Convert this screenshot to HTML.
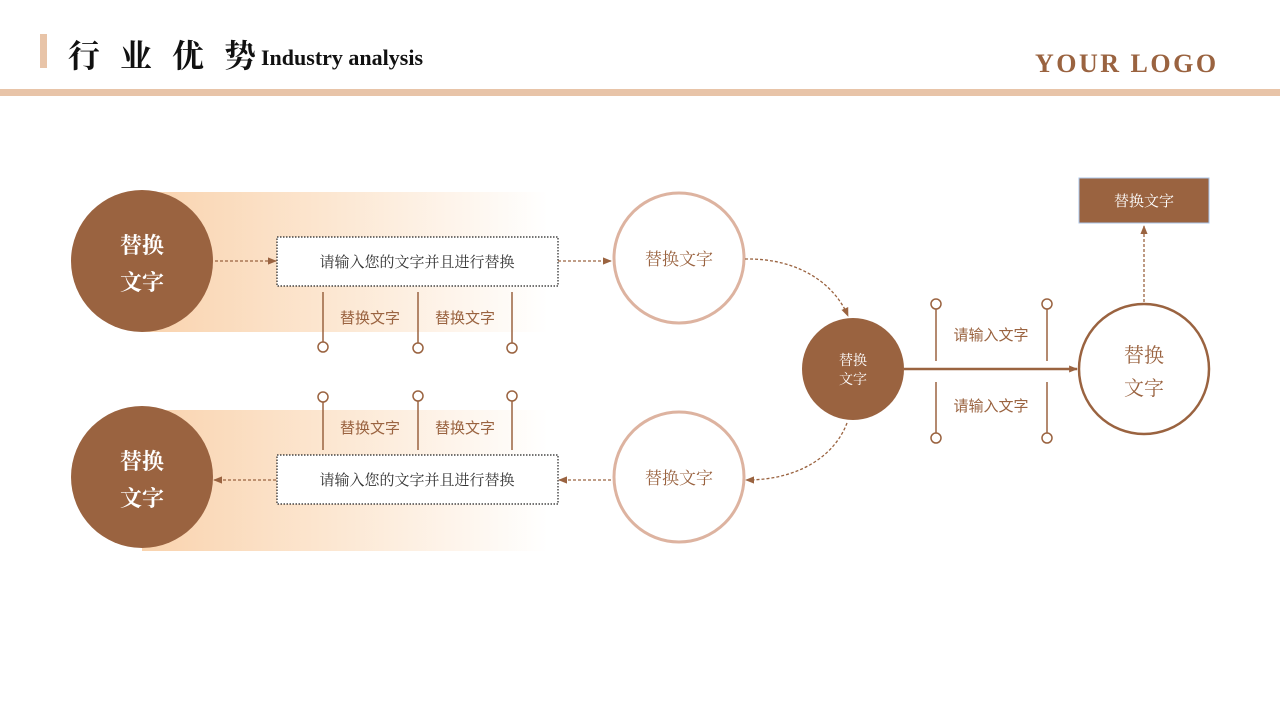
<!DOCTYPE html>
<html><head><meta charset="utf-8"><style>
html,body{margin:0;padding:0;background:#fff;}
svg{display:block;}
</style></head><body>
<svg width="1280" height="720" viewBox="0 0 1280 720" xmlns="http://www.w3.org/2000/svg">
<defs>
<linearGradient id="g" x1="0" x2="1" y1="0" y2="0">
<stop offset="0" stop-color="#F9D3AE"/>
<stop offset="0.45" stop-color="#FCE6D0"/>
<stop offset="1" stop-color="#FCE6D0" stop-opacity="0"/>
</linearGradient>
<marker id="a" viewBox="0 0 10 10" refX="9" refY="5" markerWidth="7" markerHeight="7" orient="auto"><path d="M0,1 L10,5 L0,9 z" fill="#9A6340"/></marker>
<marker id="b" viewBox="0 0 10 10" refX="9" refY="5" markerWidth="3.5" markerHeight="3.5" orient="auto"><path d="M0,1 L10,5 L0,9 z" fill="#9A6340"/></marker>
</defs>
<rect x="40" y="34" width="7" height="34" fill="#E8C4A8"/>
<text x="68" y="67" font-family="'Liberation Serif','Noto Serif CJK SC',serif" font-weight="bold" font-size="32" fill="#111" letter-spacing="20">行业优势</text>
<text x="261" y="65" font-family="'Liberation Serif',serif" font-weight="bold" font-size="22" fill="#111">Industry analysis</text>
<text x="1035" y="72" font-family="'Liberation Serif',serif" font-weight="bold" font-size="26" fill="#9A6340" letter-spacing="2.5">YOUR LOGO</text>
<rect x="0" y="89" width="1280" height="7" fill="#E8C4A8"/>

<g font-family="'Liberation Sans','Noto Sans CJK SC',sans-serif">
<rect x="142" y="192" width="406" height="140" fill="url(#g)"/>
<circle cx="142" cy="261" r="71" fill="#9A6340"/>
<text x="142" y="253" text-anchor="middle" font-family="'Noto Serif CJK SC',serif" font-weight="bold" font-size="22" fill="#fff">替换</text>
<text x="142" y="290" text-anchor="middle" font-family="'Noto Serif CJK SC',serif" font-weight="bold" font-size="22" fill="#fff">文字</text>
<line x1="215" y1="261" x2="276" y2="261" stroke="#9A6340" stroke-width="1.3" stroke-dasharray="3,2" marker-end="url(#a)"/>
<rect x="277" y="237" width="281" height="49" fill="#fff" stroke="#222" stroke-width="1.2" stroke-dasharray="1.5,1.5"/>
<text x="417" y="267" text-anchor="middle" font-family="'Noto Serif CJK SC',serif" font-size="15" fill="#333">请输入您的文字并且进行替换</text>
<line x1="558" y1="261" x2="611" y2="261" stroke="#9A6340" stroke-width="1.3" stroke-dasharray="3,2" marker-end="url(#a)"/>
<g stroke="#9A6340" stroke-width="1.5" fill="#fff">
<line x1="323" y1="292" x2="323" y2="342"/><circle cx="323" cy="347" r="5"/>
<line x1="418" y1="292" x2="418" y2="344"/><circle cx="418" cy="348" r="5"/>
<line x1="512" y1="292" x2="512" y2="344"/><circle cx="512" cy="348" r="5"/>
</g>
<text x="370" y="323" text-anchor="middle" font-size="15" fill="#9A6340">替换文字</text>
<text x="465" y="323" text-anchor="middle" font-size="15" fill="#9A6340">替换文字</text>
<circle cx="679" cy="258" r="65" fill="#fff" stroke="#DDB3A0" stroke-width="3"/>
<text x="679" y="265" text-anchor="middle" font-family="'Noto Serif CJK SC',serif" font-size="17" fill="#9A6340">替换文字</text>

<rect x="142" y="410" width="406" height="141" fill="url(#g)"/>
<circle cx="142" cy="477" r="71" fill="#9A6340"/>
<text x="142" y="469" text-anchor="middle" font-family="'Noto Serif CJK SC',serif" font-weight="bold" font-size="22" fill="#fff">替换</text>
<text x="142" y="506" text-anchor="middle" font-family="'Noto Serif CJK SC',serif" font-weight="bold" font-size="22" fill="#fff">文字</text>
<line x1="276" y1="480" x2="214" y2="480" stroke="#9A6340" stroke-width="1.3" stroke-dasharray="3,2" marker-end="url(#a)"/>
<rect x="277" y="455" width="281" height="49" fill="#fff" stroke="#222" stroke-width="1.2" stroke-dasharray="1.5,1.5"/>
<text x="417" y="485" text-anchor="middle" font-family="'Noto Serif CJK SC',serif" font-size="15" fill="#333">请输入您的文字并且进行替换</text>
<line x1="611" y1="480" x2="559" y2="480" stroke="#9A6340" stroke-width="1.3" stroke-dasharray="3,2" marker-end="url(#a)"/>
<g stroke="#9A6340" stroke-width="1.5" fill="#fff">
<line x1="323" y1="401" x2="323" y2="450"/><circle cx="323" cy="397" r="5"/>
<line x1="418" y1="400" x2="418" y2="450"/><circle cx="418" cy="396" r="5"/>
<line x1="512" y1="400" x2="512" y2="450"/><circle cx="512" cy="396" r="5"/>
</g>
<text x="370" y="433" text-anchor="middle" font-size="15" fill="#9A6340">替换文字</text>
<text x="465" y="433" text-anchor="middle" font-size="15" fill="#9A6340">替换文字</text>
<circle cx="679" cy="477" r="65" fill="#fff" stroke="#DDB3A0" stroke-width="3"/>
<text x="679" y="484" text-anchor="middle" font-family="'Noto Serif CJK SC',serif" font-size="17" fill="#9A6340">替换文字</text>

<path d="M745,259 C800,258 835,285 848,316" fill="none" stroke="#9A6340" stroke-width="1.3" stroke-dasharray="3,2" marker-end="url(#a)"/>
<path d="M847,423 C835,455 800,480 746,480" fill="none" stroke="#9A6340" stroke-width="1.3" stroke-dasharray="3,2" marker-end="url(#a)"/>

<circle cx="853" cy="369" r="51" fill="#9A6340"/>
<text x="853" y="365" text-anchor="middle" font-family="'Noto Serif CJK SC',serif" font-size="14" fill="#fff">替换</text>
<text x="853" y="384" text-anchor="middle" font-family="'Noto Serif CJK SC',serif" font-size="14" fill="#fff">文字</text>
<line x1="904" y1="369" x2="1077" y2="369" stroke="#9A6340" stroke-width="2.5" marker-end="url(#b)"/>
<g stroke="#9A6340" stroke-width="1.5" fill="#fff">
<line x1="936" y1="309" x2="936" y2="361"/><circle cx="936" cy="304" r="5"/>
<line x1="1047" y1="309" x2="1047" y2="361"/><circle cx="1047" cy="304" r="5"/>
<line x1="936" y1="382" x2="936" y2="433"/><circle cx="936" cy="438" r="5"/>
<line x1="1047" y1="382" x2="1047" y2="433"/><circle cx="1047" cy="438" r="5"/>
</g>
<text x="991" y="340" text-anchor="middle" font-size="15" fill="#9A6340">请输入文字</text>
<text x="991" y="411" text-anchor="middle" font-size="15" fill="#9A6340">请输入文字</text>
<circle cx="1144" cy="369" r="65" fill="#fff" stroke="#9A6340" stroke-width="2.5"/>
<text x="1144" y="362" text-anchor="middle" font-family="'Noto Serif CJK SC',serif" font-size="20" fill="#9A6340">替换</text>
<text x="1144" y="395" text-anchor="middle" font-family="'Noto Serif CJK SC',serif" font-size="20" fill="#9A6340">文字</text>
<line x1="1144" y1="302" x2="1144" y2="226" stroke="#9A6340" stroke-width="1.3" stroke-dasharray="3,2" marker-end="url(#a)"/>
<rect x="1079" y="178" width="130" height="45" fill="#9A6340" stroke="#A9C4E8" stroke-width="1"/>
<text x="1144" y="206" text-anchor="middle" font-family="'Noto Serif CJK SC',serif" font-size="15" fill="#fff">替换文字</text>
</g>
</svg>
</body></html>
